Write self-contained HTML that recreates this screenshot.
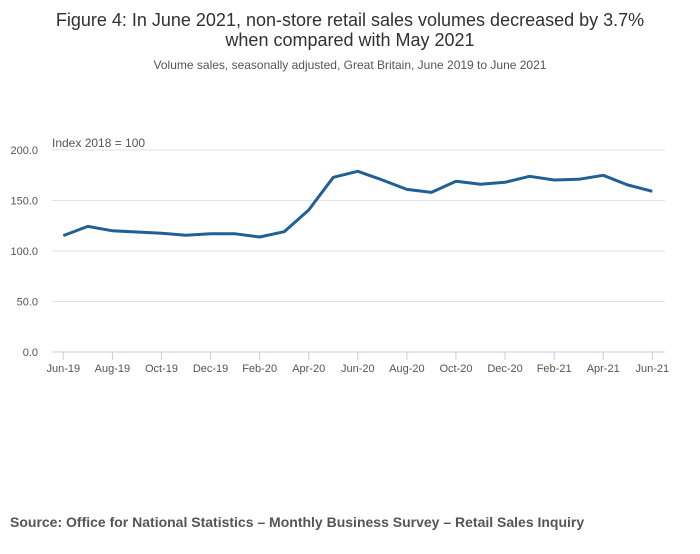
<!DOCTYPE html>
<html><head><meta charset="utf-8"><style>
body{margin:0;background:#fff;font-family:"Liberation Sans",sans-serif;}
</style></head><body>
<svg width="700" height="549" xmlns="http://www.w3.org/2000/svg">
<text x="350" y="26" text-anchor="middle" font-size="18" fill="#323132">Figure 4: In June 2021, non-store retail sales volumes decreased by 3.7%</text>
<text x="350" y="46" text-anchor="middle" font-size="18" fill="#323132">when compared with May 2021</text>
<text x="350" y="69" text-anchor="middle" font-size="12" fill="#555">Volume sales, seasonally adjusted, Great Britain, June 2019 to June 2021</text>
<text x="52" y="147" font-size="12" fill="#555">Index 2018 = 100</text>
<g id="grid"></g><g id="xaxis"></g>
<path id="line" fill="none" stroke="#206095" stroke-width="3" stroke-linejoin="round"/>
<text x="10" y="527" font-size="14" font-weight="bold" fill="#555">Source: Office for National Statistics – Monthly Business Survey – Retail Sales Inquiry</text>
</svg>
<script>
const categories=["Jun-19","Jul-19","Aug-19","Sep-19","Oct-19","Nov-19","Dec-19","Jan-20","Feb-20","Mar-20","Apr-20","May-20","Jun-20","Jul-20","Aug-20","Sep-20","Oct-20","Nov-20","Dec-20","Jan-21","Feb-21","Mar-21","Apr-21","May-21","Jun-21"];
const values=[115.2,124.4,120,118.8,117.5,115.5,117.1,117,113.9,119.1,140.6,173,178.9,170.3,161,158,169,166,168,174,170.3,171,175,165.3,159.1];
const yTicks=[0,50,100,150,200];
const yTickLabels=["0.0","50.0","100.0","150.0","200.0"];
const NS="http://www.w3.org/2000/svg";
function xs(i){return 63.3+i*(652.3-63.3)/(categories.length-1);}
function ys(v){return 352-v*1.01;}
const grid=document.getElementById('grid');
yTicks.forEach((t,k)=>{
 const l=document.createElementNS(NS,'line');
 l.setAttribute('x1',52);l.setAttribute('x2',665);l.setAttribute('y1',ys(t));l.setAttribute('y2',ys(t));
 l.setAttribute('stroke',t===0?'#bfd0e6':'#e2e2e2');l.setAttribute('stroke-width',1);
 
 
 grid.appendChild(l);
 const tx=document.createElementNS(NS,'text');
 tx.setAttribute('x',38);tx.setAttribute('y',ys(t)+4);tx.setAttribute('text-anchor','end');
 tx.setAttribute('font-size','11');tx.setAttribute('fill','#555');tx.textContent=yTickLabels[k];
 
 
 grid.appendChild(tx);
});
const xa=document.getElementById('xaxis');
categories.forEach((c,i)=>{
 if(i%2)return;
 const l=document.createElementNS(NS,'line');
 l.setAttribute('x1',xs(i));l.setAttribute('x2',xs(i));l.setAttribute('y1',352);l.setAttribute('y2',360);
 l.setAttribute('stroke','#bfd0e6');
 
 
 xa.appendChild(l);
 const tx=document.createElementNS(NS,'text');
 tx.setAttribute('x',xs(i));tx.setAttribute('y',372);tx.setAttribute('text-anchor','middle');
 tx.setAttribute('font-size','11');tx.setAttribute('fill','#555');tx.textContent=c;
 
 
 xa.appendChild(tx);
});
document.getElementById('line').setAttribute('d',values.map((v,i)=>(i?'L':'M')+xs(i).toFixed(1)+','+ys(v).toFixed(1)).join(' '));
</script>
</body></html>
